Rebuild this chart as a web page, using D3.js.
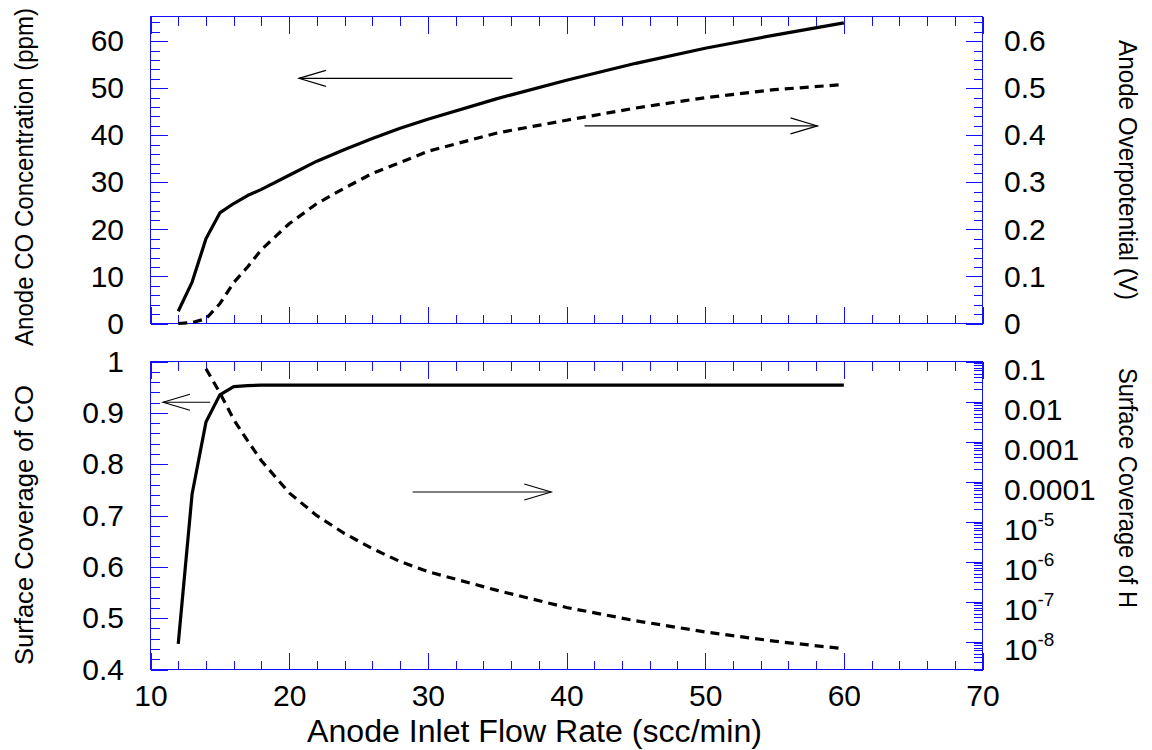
<!DOCTYPE html>
<html>
<head>
<meta charset="utf-8">
<script src="https://cdn.jsdelivr.net/npm/d3@7"></script>
<style>
  html, body { margin: 0; padding: 0; background: #fff; }
  svg { display: block; font-family: "Liberation Sans", Arial, sans-serif; }
</style>
</head>
<body>
<svg id="chart" width="1152" height="750"></svg>
<script>
// ---------------- data ----------------
const flow      = [12, 13, 14, 15, 16, 17, 18, 20, 22, 24, 26, 28, 30, 35, 40, 45, 50, 55, 60];
const coConc    = [2.6, 8.8, 18.0, 23.5, 25.5, 27.2, 28.5, 31.5, 34.5, 37.0, 39.3, 41.5, 43.4, 47.8, 51.7, 55.3, 58.5, 61.3, 63.9];
const overpot   = [0.0, 0.002, 0.01, 0.042, 0.087, 0.12, 0.157, 0.212, 0.255, 0.288, 0.319, 0.342, 0.366, 0.405, 0.432, 0.458, 0.48, 0.497, 0.508];
const coCover   = [0.45, 0.742, 0.882, 0.935, 0.951, 0.953, 0.954, 0.954, 0.954, 0.954, 0.954, 0.954, 0.954, 0.954, 0.954, 0.954, 0.954, 0.954, 0.954];
const flowH     = [14, 15, 16, 17, 18, 20, 22, 24, 26, 28, 30, 35, 40, 45, 50, 55, 60];
const hCover    = [0.066, 0.0166, 3.55e-3, 1.05e-3, 3.3e-4, 5.2e-5, 1.4e-5, 5.0e-6, 2.1e-6, 1.0e-6, 5.6e-7, 1.9e-7, 7.1e-8, 3.3e-8, 1.74e-8, 1.02e-8, 6.6e-9];

const xTicks        = [10, 20, 30, 40, 50, 60, 70];
const topLeftTicks  = [0, 10, 20, 30, 40, 50, 60];
const topRightTicks = [0, 0.1, 0.2, 0.3, 0.4, 0.5, 0.6];
const botLeftTicks  = [0.4, 0.5, 0.6, 0.7, 0.8, 0.9, 1];
const botRightTicks = [0.1, 0.01, 0.001, 0.0001, 1e-5, 1e-6, 1e-7, 1e-8];
const botRightLabels = [["0.1", ""], ["0.01", ""], ["0.001", ""], ["0.0001", ""], ["10", "-5"], ["10", "-6"], ["10", "-7"], ["10", "-8"]];

// annotation arrows in data units: [x from, x tip, y] (y in the panel's left-axis units)
const topArrows = [[36.1, 20.7, 52.1], [41.3, 58.1, 42.0]];
const botArrows = [[14.3, 10.9, 0.9206], [28.9, 38.9, 0.7458]];

const xTitle = "Anode Inlet Flow Rate (scc/min)";
const yTitles = ["Anode CO Concentration (ppm)", "Anode Overpotential (V)", "Surface Coverage of CO", "Surface Coverage of H"];

// ---------------- layout ----------------
const L = 150.5, R = 982.5;
const T1 = 16.5, B1 = 323.5, T2 = 361.5, B2 = 669.5;
const AX = "#1010ff";
const MAJ = 17, MIN = 9;

const svg = d3.select("#chart");
const x = d3.scaleLinear().domain([10, 70]).range([L, R]);
const yTL = d3.scaleLinear().domain([0, 65.25]).range([B1, T1]);
const yTR = d3.scaleLinear().domain([0, 0.6525]).range([B1, T1]);
const yBL = d3.scaleLinear().domain([0.4, 1.0]).range([B2, T2]);
const yBR = d3.scaleLog().domain([2e-9, 0.1]).range([B2, T2]);

const rangeStep = (a, b, s) => d3.range(Math.round((b - a) / s) + 1).map(i => +(a + i * s).toFixed(6));

function styleAxis(g) {
  g.select(".domain").remove();
  g.selectAll(".tick line").attr("stroke", AX).attr("stroke-width", 1).attr("shape-rendering", "crispEdges");
  g.selectAll(".tick text").attr("fill", "#000").style("font-family", "'Liberation Sans', Arial, sans-serif");
}

function addAxis(axisFn, scale, pos, values, size, fmt, pad, fontSize) {
  const a = axisFn(scale).tickValues(values).tickSize(-size).tickPadding(pad || 3)
    .tickFormat(fmt || (() => ""));
  const g = svg.append("g").attr("transform", pos).call(a);
  styleAxis(g);
  if (fontSize) g.selectAll(".tick text").attr("font-size", fontSize);
  return g;
}

const minorX = rangeStep(10, 70, 2).filter(v => v % 10 !== 0);
[[T1, B1], [T2, B2]].forEach(([t, b], i) => {
  addAxis(d3.axisTop, x, `translate(0,${t})`, xTicks, MAJ);
  addAxis(d3.axisTop, x, `translate(0,${t})`, minorX, MIN);
  const isBottom = i === 1;
  addAxis(d3.axisBottom, x, `translate(0,${b})`, xTicks, MAJ, isBottom ? d3.format("d") : null, 15, 30);
  addAxis(d3.axisBottom, x, `translate(0,${b})`, minorX, MIN);
});

// top panel left / right
addAxis(d3.axisLeft, yTL, `translate(${L},0)`, topLeftTicks, MAJ, d3.format("d"), 26.5, 30);
addAxis(d3.axisLeft, yTL, `translate(${L},0)`, rangeStep(0, 64, 2).filter(v => v % 10 !== 0), MIN);
addAxis(d3.axisRight, yTR, `translate(${R},0)`, topRightTicks, MAJ, d => d === 0 ? "0" : d3.format(".1f")(d), 21.5, 30);
addAxis(d3.axisRight, yTR, `translate(${R},0)`, rangeStep(0, 0.64, 0.02).filter(v => Math.abs(v * 10 - Math.round(v * 10)) > 1e-6), MIN);

// bottom panel left
addAxis(d3.axisLeft, yBL, `translate(${L},0)`, botLeftTicks, MAJ, d => d === 1 ? "1" : d3.format(".1f")(d), 26.5, 30);
addAxis(d3.axisLeft, yBL, `translate(${L},0)`, rangeStep(0.4, 1.0, 0.02).filter(v => Math.abs(v * 10 - Math.round(v * 10)) > 1e-6), MIN);

// bottom panel right (log)
const logMinor = [];
for (let e = -9; e <= -2; e++) for (let k = 2; k <= 9; k++) {
  const v = k * Math.pow(10, e);
  if (v >= 2e-9 && v <= 0.1) logMinor.push(v);
}
addAxis(d3.axisRight, yBR, `translate(${R},0)`, botRightTicks, MAJ);
addAxis(d3.axisRight, yBR, `translate(${R},0)`, logMinor, MIN);
const lg = svg.append("g");
botRightTicks.forEach((v, i) => {
  const t = lg.append("text").attr("x", 1004).attr("y", yBR(v) + 18).attr("font-size", 30).attr("fill", "#000");
  t.append("tspan").text(botRightLabels[i][0]);
  if (botRightLabels[i][1]) t.append("tspan").attr("font-size", 19).attr("dy", -14).text(botRightLabels[i][1]);
});

// frames
[[T1, B1], [T2, B2]].forEach(([t, b]) => {
  svg.append("rect").attr("x", L).attr("y", t).attr("width", R - L).attr("height", b - t)
    .attr("fill", "none").attr("stroke", AX).attr("stroke-width", 1).attr("shape-rendering", "crispEdges");
});

// ---------------- lines ----------------
function drawLine(xs, ys, ys_scale, dashed) {
  const pts = xs.map((d, i) => [x(d), ys_scale(ys[i])]);
  svg.append("path").attr("d", d3.line()(pts)).attr("fill", "none").attr("stroke", "#000")
    .attr("stroke-width", 3.2).attr("stroke-linejoin", "round")
    .attr("stroke-dasharray", dashed ? "9,6" : null);
}
drawLine(flow, coConc, yTL, false);
drawLine(flow, overpot, yTR, true);
drawLine(flow, coCover, yBL, false);
drawLine(flowH, hCover, yBR, true);

// ---------------- arrows ----------------
function arrow(x0, x1, yy, ys) {
  const y = ys(yy), X0 = x(x0), X1 = x(x1);
  const dir = Math.sign(X1 - X0);
  const g = svg.append("g").attr("stroke", "#000").attr("stroke-width", 1.1).attr("fill", "none");
  g.append("line").attr("x1", X0).attr("y1", y).attr("x2", X1).attr("y2", y);
  g.append("polyline").attr("points", `${X1 - dir * 27},${y - 8} ${X1},${y} ${X1 - dir * 27},${y + 8}`);
}
topArrows.forEach(a => arrow(a[0], a[1], a[2], yTL));
botArrows.forEach(a => arrow(a[0], a[1], a[2], yBL));

// ---------------- titles ----------------
svg.append("text").attr("x", 534.5).attr("y", 742).attr("text-anchor", "middle")
  .attr("font-size", 31).attr("textLength", 455).attr("lengthAdjust", "spacingAndGlyphs").text(xTitle);

function vTitle(txt, cx, cy, rot, len, fs) {
  svg.append("text").attr("transform", `translate(${cx},${cy}) rotate(${rot}) scale(1,${(26 / fs).toFixed(3)})`)
    .attr("text-anchor", "middle").attr("font-size", fs)
    .attr("textLength", len).attr("lengthAdjust", "spacingAndGlyphs").text(txt);
}
vTitle(yTitles[0], 33, 177, -90, 338, 24);
vTitle(yTitles[1], 1119, 170, 90, 260, 24.2);
vTitle(yTitles[2], 33, 525, -90, 280, 25.5);
vTitle(yTitles[3], 1119, 488, 90, 240, 23.6);
</script>
</body>
</html>
